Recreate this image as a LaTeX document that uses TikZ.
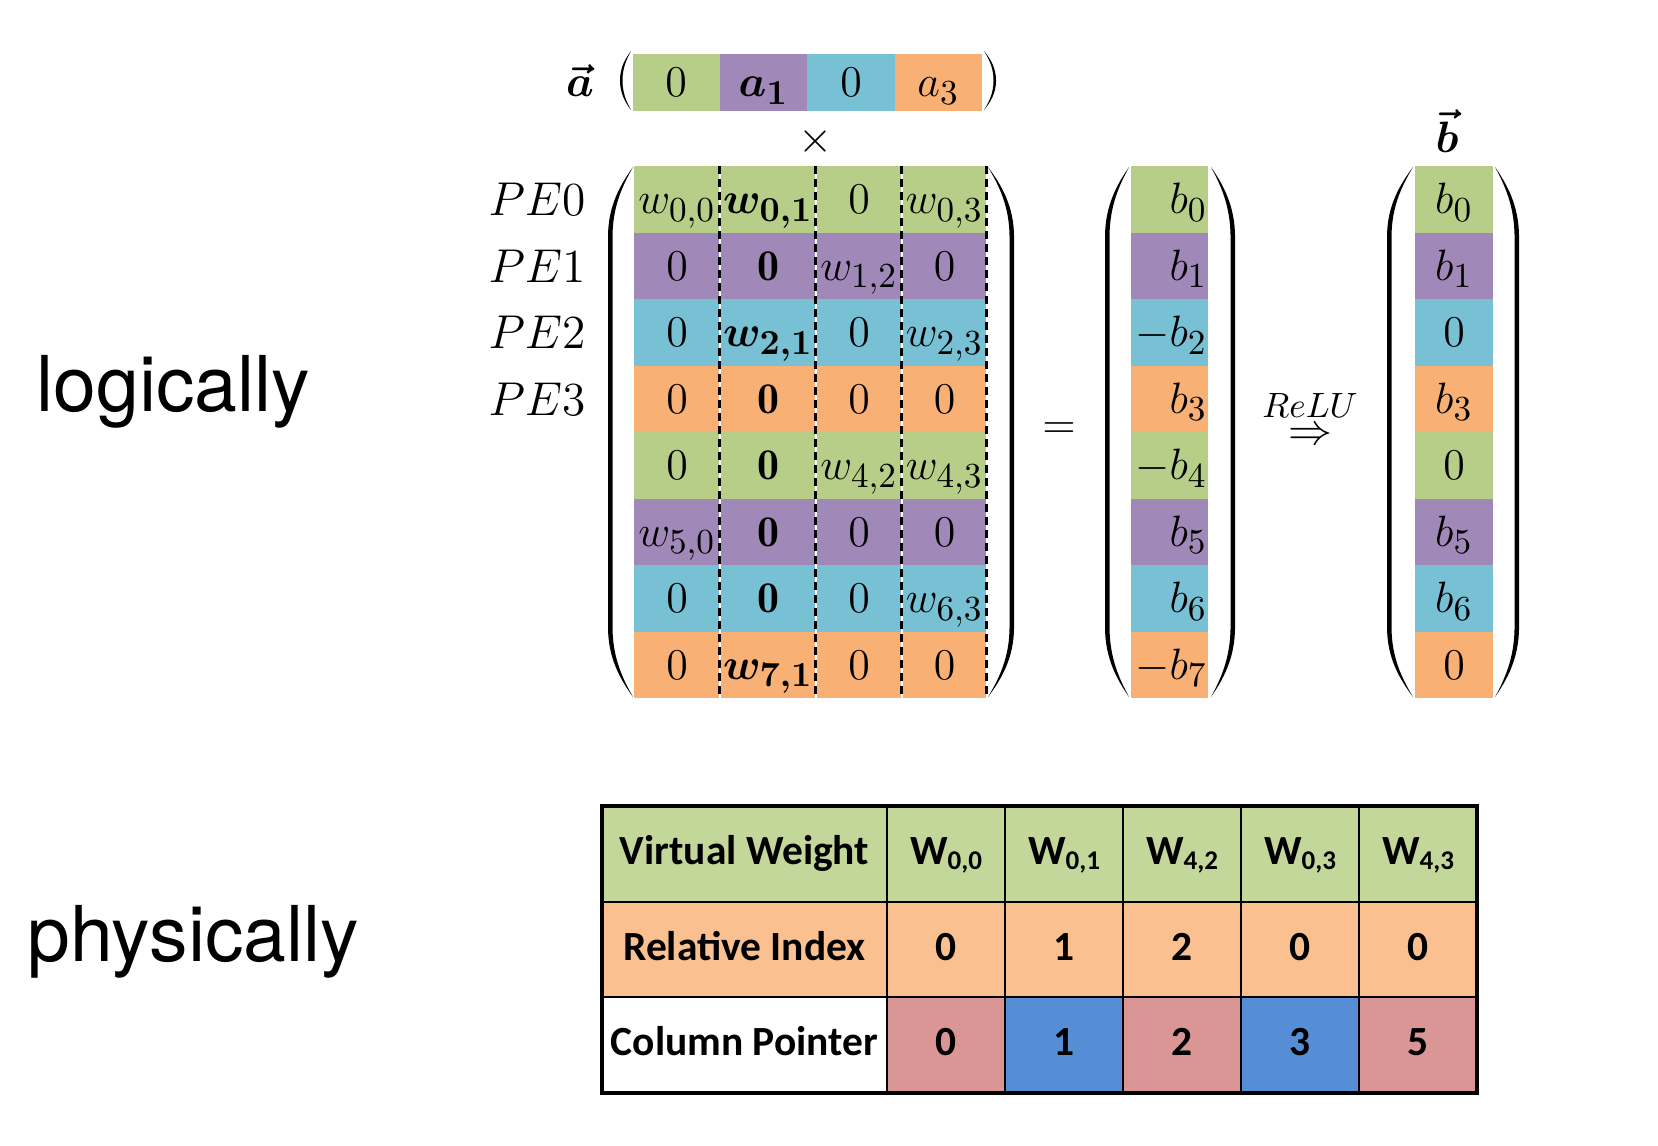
\RequirePackage{fix-cm}
\documentclass[tikz,border=0pt]{standalone}
\usepackage{amsmath,bm}
\usepackage{fontspec}
\newfontfamily\tablefont{Carlito}
\newfontfamily\wordfont{TeX Gyre Heros}
\DeclareMathSizes{12.5}{12.5}{10}{7.5}
\usetikzlibrary{calc}
\definecolor{pegreen}{RGB}{182,206,135}
\definecolor{pepurple}{RGB}{160,137,184}
\definecolor{peblue}{RGB}{120,192,212}
\definecolor{peorange}{RGB}{248,176,116}
\definecolor{tgreen}{RGB}{196,215,155}
\definecolor{torange}{RGB}{250,192,144}
\definecolor{tpink}{RGB}{217,150,148}
\definecolor{tblue}{RGB}{85,142,213}
\tikzset{
  entry/.style={inner sep=0pt, anchor=base, font=\fontsize{12.5}{15}\selectfont},
  pelabel/.style={inner sep=0pt, anchor=base east, font=\fontsize{13.5}{16}\selectfont},
  wordlabel/.style={inner sep=0pt, anchor=base west, font=\wordfont\fontsize{21.9}{26}\selectfont},
  tabtext/.style={inner sep=0pt, anchor=base, font=\tablefont\bfseries\fontsize{11.8}{14}\selectfont},
  colsep/.style={white, line width=0.7pt},
  coldash/.style={black, line width=0.7pt, dash pattern=on 2.2pt off 1.5pt},
  tabline/.style={black, line width=0.6pt},
  tabborder/.style={black, line width=1pt},
}

\begin{document}
\begin{tikzpicture}
  \useasboundingbox (0,0) rectangle (16.58,-11.45);
  % a vector
  \foreach \i/\clr/\txt in {0/pegreen/0,1/pepurple/{\bm{a_1}},2/peblue/0,3/peorange/{a_3}}{
    \fill[\clr] ({6.325+0.874*\i},-0.54) rectangle ({7.199+0.874*\i},-1.11);
    \node[entry] (a-\i) at ({6.762+0.874*\i},-0.965) {$\txt$};
  }
  \node[entry] (avec) at (5.80,-0.965) {$\bm{\vec{a}}$};
  \node[entry, anchor=center] (times) at (8.16,-1.42) {$\times$};
  % rows of W and b
  \foreach \r/\clr in {0/pegreen,1/pepurple,2/peblue,3/peorange,4/pegreen,5/pepurple,6/peblue,7/peorange}{
    \fill[\clr] (6.34,{-1.66-0.665*\r}) rectangle (9.87,{-2.325-0.665*\r});
    \fill[\clr] (11.31,{-1.66-0.665*\r}) rectangle (12.08,{-2.325-0.665*\r});
    \fill[\clr] (14.15,{-1.66-0.665*\r}) rectangle (14.93,{-2.325-0.665*\r});
  }
  \foreach \x in {7.20,8.16,9.02,9.87}{
    \draw[colsep] (\x,-1.66) -- (\x,-6.98);
    \draw[coldash] (\x-0.005,-1.66) -- (\x-0.005,-6.98);
  }
  \foreach \r/\ea/\eb/\ec/\ed/\bl/\br in {
    0/{w_{0,0}}/{\bm{w_{0,1}}}/0/{w_{0,3}}/{b_0}/{b_0},
    1/0/{\mathbf{0}}/{w_{1,2}}/0/{b_1}/{b_1},
    2/0/{\bm{w_{2,1}}}/0/{w_{2,3}}/{-b_2}/0,
    3/0/{\mathbf{0}}/0/0/{b_3}/{b_3},
    4/0/{\mathbf{0}}/{w_{4,2}}/{w_{4,3}}/{-b_4}/0,
    5/{w_{5,0}}/{\mathbf{0}}/0/0/{b_5}/{b_5},
    6/0/{\mathbf{0}}/0/{w_{6,3}}/{b_6}/{b_6},
    7/0/{\bm{w_{7,1}}}/0/0/{-b_7}/0}{
    \node[entry] (m-\r-0) at (6.77,{-2.135-0.665*\r}) {$\ea$};
    \node[entry] (m-\r-1) at (7.68,{-2.135-0.665*\r}) {$\eb$};
    \node[entry] (m-\r-2) at (8.59,{-2.135-0.665*\r}) {$\ec$};
    \node[entry] (m-\r-3) at (9.445,{-2.135-0.665*\r}) {$\ed$};
    \node[entry, anchor=base east] (bl-\r) at (12.08,{-2.135-0.665*\r}) {$\bl$};
    \node[entry] (br-\r) at (14.54,{-2.135-0.665*\r}) {$\br$};
  }
  \foreach \r in {0,...,3}
    \node[pelabel] (pe\r) at (5.86,{-2.155-0.665*\r}) {$PE\r$};
  \node[entry, anchor=center] (eq) at (10.59,-4.31) {$=$};
  \node[entry, anchor=center, font=\fontsize{10}{12}\selectfont] (relu) at (13.10,-4.05) {$ReLU$};
  \node[entry, anchor=center] (impl) at (13.10,-4.36) {$\Rightarrow$};
  \node[entry, anchor=center] (bvec) at (14.47,-1.31) {$\bm{\vec{b}}$};
  % parentheses
  \foreach \xe/\yt/\yb/\d/\t/\a in {6.33/-1.67/-6.97/-0.25/0.045/0.7, 9.88/-1.67/-6.97/0.26/-0.045/0.7,
      11.29/-1.67/-6.97/-0.24/0.045/0.7, 12.11/-1.67/-6.97/0.24/-0.045/0.7,
      14.13/-1.67/-6.97/-0.26/0.045/0.7, 14.95/-1.67/-6.97/0.24/-0.045/0.7,
      6.31/-0.51/-1.10/-0.11/0.025/0.295, 9.84/-0.51/-1.10/0.12/-0.025/0.295}
    \fill (\xe,\yt) .. controls ({\xe+0.5*(\d)},{\yt-0.25*\a}) and ({\xe+\d},{\yt-0.55*\a}) .. ({\xe+\d},{\yt-\a})
      -- ({\xe+\d},{\yb+\a})
      .. controls ({\xe+\d},{\yb+0.55*\a}) and ({\xe+0.5*(\d)},{\yb+0.25*\a}) .. (\xe,\yb)
      .. controls ({\xe+0.5*(\d)+0.6*(\t)},{\yb+0.25*\a}) and ({\xe+\d+\t},{\yb+0.55*\a}) .. ({\xe+\d+\t},{\yb+\a})
      -- ({\xe+\d+\t},{\yt-\a})
      .. controls ({\xe+\d+\t},{\yt-0.55*\a}) and ({\xe+0.5*(\d)+0.6*(\t)},{\yt-0.25*\a}) .. cycle;
  % side words
  \node[wordlabel] (logical) at (0.36,-4.117) {logically};
  \node[wordlabel] (physical) at (0.27,-9.617) {physically};
  % table
  \fill[tgreen] (6.02,-8.06) rectangle (14.77,-9.02);
  \fill[torange] (6.02,-9.02) rectangle (14.77,-9.97);
  \foreach \c/\clr in {1/tpink,2/tblue,3/tpink,4/tblue,5/tpink}
    \fill[\clr] ({7.69+1.18*\c},-9.97) rectangle ({8.87+1.18*\c},-10.93);
  \foreach \x in {8.87,10.05,11.23,12.41,13.59}
    \draw[tabline] (\x,-8.06) -- (\x,-10.93);
  \draw[tabline] (6.02,-9.02) -- (14.77,-9.02);
  \draw[tabline] (6.02,-9.97) -- (14.77,-9.97);
  \draw[tabborder] (6.02,-8.06) rectangle (14.77,-10.93);
  \node[tabtext] (vw) at (7.445,-8.64) {Virtual Weight};
  \node[tabtext] (ri) at (7.445,-9.60) {Relative Index};
  \node[tabtext] (cp) at (7.445,-10.55) {Column Pointer};
  \foreach \c/\wsub/\rel/\cpt in {1/{0,0}/0/0, 2/{0,1}/1/1, 3/{4,2}/2/2, 4/{0,3}/0/3, 5/{4,3}/0/5}{
    \node[tabtext] (vw-\c) at ({8.28+1.18*\c},-8.64) {W\raisebox{-1.5pt}{\fontsize{7.7}{9}\selectfont\wsub}};
    \node[tabtext] (ri-\c) at ({8.28+1.18*\c},-9.60) {\rel};
    \node[tabtext] (cp-\c) at ({8.28+1.18*\c},-10.55) {\cpt};
  }
\end{tikzpicture}
\end{document}
